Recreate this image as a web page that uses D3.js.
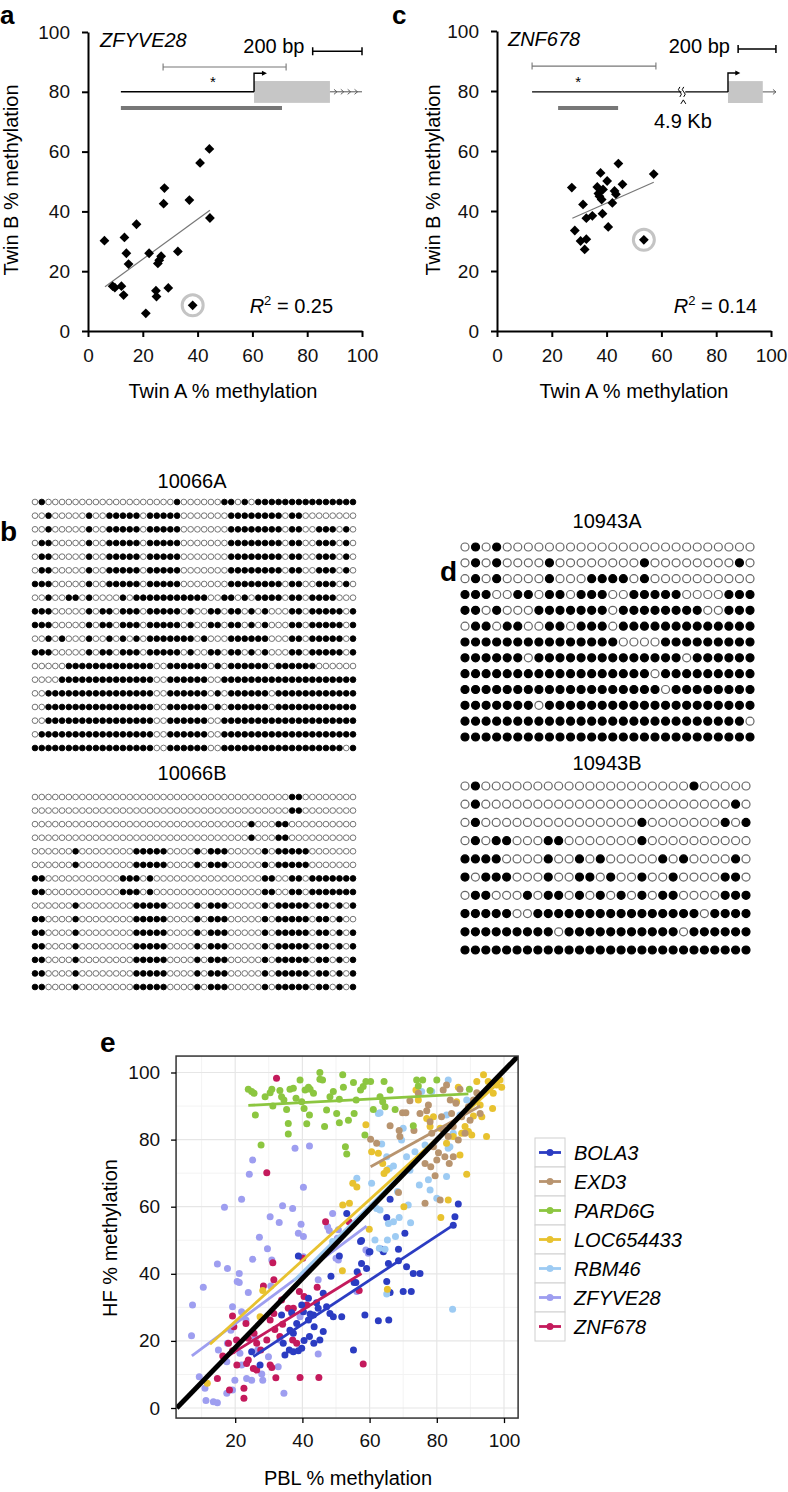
<!DOCTYPE html>
<html>
<head>
<meta charset="UTF-8">
<style>
  body { margin: 0; background: #fff; }
  svg { display: block; font-family: "Liberation Sans", Arial, Helvetica, sans-serif; }
</style>
</head>
<body>
<svg></svg>
<script src="https://d3js.org/d3.v7.min.js"></script>
<script>

let width = 788, height = 1492;

let svg = d3.select("svg")
    .attr("width", width)
    .attr("height", height);

// ---------- panels a and c: twin A vs twin B methylation ----------
const scatterTicks = [0, 20, 40, 60, 80, 100];

const zfyveTwinA = [6, 9, 9.8, 12.2, 13, 13.3, 14, 14.8, 17.7, 21.1, 22.3, 24.8, 25, 25.5, 26, 26.7, 27.9, 27.6, 29.3, 32.8, 37, 38.2, 40.9, 44.3, 44.5];
const zfyveTwinB = [30.2, 15, 14.5, 15, 12, 31.3, 26, 22.4, 35.7, 5.9, 26, 13.5, 11.5, 22.6, 23.7, 25, 47.8, 42.6, 14.4, 26.6, 43.8, 8.6, 56.2, 60.9, 37.8];
const zfyveOutlier = 21;
const zfyveFit = [[6.2, 14.8], [44.5, 40.4]];

const znfTwinA = [27.3, 28.4, 31.4, 30.5, 32.6, 32, 32.6, 34.8, 37.8, 36.6, 37, 37.4, 38.2, 38.7, 38.5, 40.2, 40.6, 42.1, 42.9, 43.4, 44.3, 45.8, 53.6, 57.2];
const znfTwinB = [47.8, 33.5, 42.2, 30, 30.6, 27.2, 37.6, 38.4, 52.7, 48, 45.8, 44.9, 43.8, 47.2, 39.1, 50, 34.7, 42.7, 46.7, 45.6, 55.8, 48.9, 30.4, 52.3];
const znfOutlier = 22;
const znfFit = [[27.5, 37.6], [57.2, 49.6]];

// ---------- panels b and d: bisulfite clones ----------
// each row: run lengths, alternating unmethylated / methylated, starting unmethylated
const clones10066A = [
    [1, 1, 19, 1, 6, 2, 1, 1, 1, 15],
    [2, 1, 5, 1, 2, 5, 1, 5, 7, 8, 1, 2, 8],
    [2, 1, 5, 1, 2, 5, 1, 5, 7, 8, 1, 2, 2, 3, 1, 1, 1],
    [1, 2, 5, 1, 2, 5, 1, 5, 7, 8, 1, 2, 2, 3, 1, 1, 1],
    [1, 2, 5, 1, 2, 5, 1, 5, 7, 8, 1, 2, 2, 3, 1, 1, 1],
    [1, 2, 5, 1, 2, 5, 1, 5, 7, 8, 1, 2, 2, 3, 1, 1, 1],
    [0, 3, 5, 1, 2, 5, 1, 5, 7, 8, 1, 2, 2, 3, 1, 1, 1],
    [2, 1, 2, 2, 1, 1, 4, 1, 1, 11, 2, 2, 1, 1, 1, 4, 1, 2, 1, 4, 3],
    [0, 3, 5, 1, 1, 2, 1, 3, 1, 5, 1, 1, 2, 2, 1, 2, 1, 1, 1, 1, 3, 2, 1, 5, 1, 1],
    [0, 3, 5, 1, 1, 2, 1, 3, 1, 5, 1, 1, 2, 2, 1, 2, 1, 1, 1, 1, 3, 2, 1, 5, 1, 1],
    [2, 1, 1, 1, 3, 1, 2, 1, 1, 1, 1, 1, 1, 7, 1, 1, 3, 6, 3, 2, 1, 5, 1, 1],
    [0, 3, 5, 1, 1, 2, 1, 3, 1, 5, 1, 1, 2, 2, 1, 2, 1, 1, 1, 1, 3, 2, 1, 5, 1, 1],
    [5, 13, 2, 6, 1, 1, 1, 6, 1, 6, 6],
    [4, 14, 2, 6, 2, 20],
    [2, 16, 2, 6, 1, 1, 1, 6, 1, 12],
    [2, 16, 2, 6, 1, 1, 1, 6, 1, 12],
    [2, 16, 2, 6, 2, 20],
    [1, 17, 2, 6, 2, 20],
    [0, 18, 2, 6, 2, 18, 1, 1]
];
const clones10066B = [
    [38, 2, 8],
    [38, 2, 8],
    [32, 1, 3, 2, 10],
    [32, 1, 3, 2, 10],
    [6, 1, 8, 5, 4, 1, 1, 3, 5, 1, 1, 5, 7],
    [6, 1, 8, 5, 4, 1, 1, 3, 5, 1, 1, 5, 7],
    [0, 2, 11, 3, 1, 1, 16, 2, 2, 2, 1, 7],
    [0, 2, 11, 3, 1, 1, 16, 2, 2, 2, 1, 7],
    [6, 1, 8, 5, 4, 1, 1, 3, 5, 1, 1, 5, 1, 2, 1, 1, 1, 1],
    [0, 2, 4, 1, 8, 5, 4, 1, 1, 3, 5, 1, 1, 5, 1, 2, 1, 1, 2],
    [0, 2, 4, 1, 8, 5, 4, 1, 1, 3, 5, 1, 1, 5, 1, 2, 1, 1, 1, 1],
    [0, 2, 4, 1, 8, 5, 4, 1, 1, 3, 5, 1, 1, 5, 1, 2, 1, 1, 1, 1],
    [0, 2, 4, 1, 8, 5, 4, 1, 1, 3, 5, 1, 1, 5, 1, 2, 1, 1, 1, 1],
    [0, 2, 4, 1, 8, 5, 4, 1, 1, 3, 5, 1, 1, 5, 1, 2, 1, 1, 1, 1],
    [0, 2, 4, 1, 8, 5, 4, 1, 1, 3, 5, 1, 1, 5, 1, 2, 1, 1, 1, 1]
];
const clones10943A = [
    [1, 1, 1, 1, 24],
    [1, 1, 1, 1, 4, 1, 8, 1, 8, 1, 1],
    [1, 1, 1, 1, 4, 1, 3, 4, 1, 1, 10],
    [0, 3, 2, 2, 1, 2, 1, 3, 2, 5, 4, 3],
    [0, 2, 1, 1, 3, 7, 1, 8, 2, 3],
    [1, 2, 1, 2, 2, 2, 1, 3, 1, 13],
    [0, 15, 4, 9],
    [0, 6, 1, 14, 1, 6],
    [0, 18, 1, 9],
    [0, 19, 1, 8],
    [0, 7, 1, 20],
    [0, 27, 1],
    [0, 28]
];
const clones10943B = [
    [1, 1, 20, 1, 5],
    [1, 1, 24, 1, 1],
    [1, 1, 15, 1, 7, 1, 1, 1],
    [1, 1, 1, 2, 3, 2, 7, 1, 10],
    [0, 4, 4, 1, 2, 1, 1, 1, 5, 1, 1, 1, 4, 1, 1],
    [0, 1, 1, 3, 3, 1, 2, 2, 1, 1, 2, 1, 2, 1, 4, 2, 1],
    [1, 2, 3, 1, 1, 2, 1, 1, 1, 1, 1, 1, 1, 1, 1, 2, 4, 3],
    [0, 5, 2, 16, 1, 4],
    [0, 9, 1, 11, 1, 6],
    [0, 28]
];

// ---------- panel e: PBL vs HF methylation ----------
const genes = ["BOLA3", "EXD3", "PARD6G", "LOC654433", "RBM46", "ZFYVE28", "ZNF678"];
const geneColors = ["#2b3cc2", "#b8946f", "#8cc640", "#e8c22f", "#9dcbf3", "#9e9ef0", "#c41a5c"];
const eTicksX = [20, 40, 60, 80, 100];
const eTicksY = [0, 20, 40, 60, 80, 100];
const eMinor = [10, 30, 50, 70, 90];

const bola3Pts = [[53.2, 58], [66.1, 62.2], [65.1, 56.8], [86.4, 60.8], [85.4, 57], [84.9, 54.5], [57.6, 49.9], [59.9, 46.6], [63.6, 47.3], [64.1, 46.6], [68.6, 47.3], [70.5, 52.1], [71, 42.1], [38.8, 45.3], [48.5, 39.3], [57.6, 43.1], [59.1, 41.6], [55.9, 37.4], [65.1, 37.7], [65.6, 43.1], [68.6, 43.9], [73, 40.1], [75, 40.1], [70, 34.7], [72.4, 34.7], [66.1, 34.4], [51, 45.3], [55.4, 37.4], [58.6, 27.7], [62.6, 26], [65.7, 26.2], [55.2, 17.3], [27.4, 12.8], [46.2, 34.2], [44.2, 31.4], [43.3, 27.7], [41.8, 26.2], [40.3, 28.7], [38.3, 25.2], [37.3, 22.3], [40.5, 20.1], [42.1, 21.3], [43.4, 19.3], [45.2, 20.3], [34.3, 19.3], [34.8, 15.8], [36.1, 17.3], [37.3, 16.8], [38.8, 17.1], [39.8, 17.8], [48.2, 28.2], [49.2, 27.2], [51.7, 27.2], [47.2, 30.2], [44.7, 29.7], [42.3, 28], [43.5, 24.2], [24.9, 16.8], [33.8, 27.7], [41.8, 32.7], [39.8, 30.7], [36.8, 28.4], [36.3, 23.2], [46.2, 22.8], [56.3, 40.6], [60.1, 46.6], [57.3, 49.6]];
const exd3Pts = [[60.3, 80.1], [62.1, 78.9], [66.1, 84.1], [68.8, 82.7], [69.8, 88], [70.8, 88], [72, 91.6], [73.2, 82.7], [74.5, 93.8], [75, 87.8], [76.5, 61], [76.5, 72.9], [77, 88.6], [77.5, 90.3], [78, 85.3], [78.5, 81.9], [79, 77.9], [79.5, 69.2], [80, 73.9], [80.5, 76.1], [81, 62], [81.4, 86.8], [81.9, 82.9], [82.4, 74.9], [82.9, 96.3], [83.4, 80.9], [83.7, 72.9], [84, 91.8], [84.4, 87.8], [84.9, 83.9], [85.7, 90.8], [86.4, 79.9], [86.9, 95], [87.4, 86.8], [88.4, 81.9], [89.4, 89.8], [89.9, 85.8], [90.9, 91.8], [91.9, 94], [92.9, 87.8], [78.2, 71.9], [84.9, 74.9], [69, 80.9], [81.9, 94.8], [68.6, 64.2]];
const pard6gPts = [[23.9, 95], [24.9, 94.3], [25.6, 93.8], [26, 87.3], [27.7, 78.4], [28.9, 92.8], [30.4, 94], [30.9, 95], [31.2, 90], [33.3, 94.6], [33.8, 92.8], [34.5, 91.8], [35.8, 84.8], [35.8, 81.7], [36.3, 95], [38.1, 92.3], [39.3, 97.8], [39.8, 91.3], [40.5, 89.3], [41.3, 84.7], [42.1, 87.3], [40.8, 94.8], [42.3, 95], [43.3, 93.8], [45.2, 100], [46, 97.8], [46.6, 83.9], [47.2, 88.8], [48.2, 92.8], [49.2, 94.3], [50.2, 87.8], [51, 85], [51, 92], [52, 99.3], [52.2, 95.6], [52.8, 77.9], [53.2, 75.7], [53.7, 85.8], [55.2, 97], [55.4, 87.8], [56, 91.8], [57.3, 94.8], [58.1, 95.8], [58.9, 97.3], [60.3, 97.3], [61.1, 89], [63.1, 92.8], [64.3, 97.3], [64.6, 89.8], [66.1, 94.8], [67.6, 89], [74, 97.8], [75.8, 97.8], [78, 94.6], [80, 97.8], [73, 84.1], [58.6, 81.4], [37.3, 95.3], [41.8, 95.6], [63.9, 91.3], [74.5, 96], [89.7, 95], [45.2, 98], [35.3, 89]];
const loc654433Pts = [[58.9, 84.4], [60.6, 76.4], [62.6, 75.9], [63.9, 72.9], [64.3, 69.9], [65.1, 70.9], [55, 67], [56.2, 65.9], [52, 60.5], [54, 61], [59.9, 53.3], [51.9, 40.9], [73.8, 94.8], [74.5, 91.8], [77, 86.3], [78, 83.9], [79, 86.8], [81, 83.4], [82.9, 78.9], [84.9, 80.9], [86.9, 75.4], [87.4, 81.9], [88.4, 83.9], [88.9, 69.7], [89.4, 82.4], [90.4, 81.4], [90.9, 87], [91.9, 97.3], [92.9, 90.3], [93.4, 86.8], [93.9, 99.3], [94.8, 80.9], [95.3, 97.3], [96.6, 89.3], [96.8, 93.8], [97.8, 96.3], [98.8, 97.8], [99.3, 95.6], [86.4, 95.6], [85.9, 91.3], [70.2, 60], [81.2, 56.8], [83.4, 62], [65.3, 35.4], [28.2, 35], [11.7, 7.4], [27.4, 27.2]];
const rbm46Pts = [[63.1, 88], [63.6, 78.7], [65.1, 74.9], [65.9, 71.4], [67.1, 72.1], [69.5, 79.9], [70, 83.4], [71, 74.9], [72, 70.9], [73.5, 76.4], [74.8, 66.5], [75.5, 94.3], [77.5, 68], [78, 65], [80, 62.5], [82.9, 69], [83.4, 77.4], [83.4, 97.8], [86.9, 87.3], [82.9, 87.3], [78.5, 94.3], [76.5, 78.4], [68.3, 64.5], [56.2, 68.5], [60.6, 67], [62.1, 59.5], [63.1, 59], [65.6, 55], [67.1, 55.5], [68.8, 56.8], [72.2, 55.2], [61.6, 50.1], [65.3, 50.1], [67.7, 51.1], [62.9, 47.6], [64.6, 47.3], [65.1, 34], [83.9, 77.9], [84.9, 81.9], [88.9, 91.8], [62.6, 87.8], [71.5, 60.5], [84.7, 29.4], [49, 49.6]];
const zfyve28Pts = [[37.8, 77.4], [42.1, 78.1], [25.2, 73.9], [24.2, 69.7], [40.3, 65.8], [21.9, 62.2], [16.8, 59.8], [34.1, 60.3], [37.1, 59.5], [30.4, 57], [33.1, 55.3], [39.6, 54.8], [38.8, 52.1], [40.3, 51.1], [27.2, 50.9], [49, 58], [47.5, 54], [48, 52.9], [29.6, 47.5], [50.4, 50.6], [50.7, 53.1], [58.9, 47.1], [59.6, 46.1], [25.2, 44.3], [14.7, 42.9], [17.7, 41.6], [21.2, 40.1], [20.6, 37.7], [21.2, 37.4], [10.5, 36], [23.9, 34.4], [50, 44.6], [50.7, 44.1], [44.7, 38.2], [56.2, 34.7], [7.3, 30.7], [7, 21.5], [17.7, 19.3], [15, 17.3], [19.2, 30.2], [9.3, 9.3], [11, 5.9], [11.3, 2.2], [13.5, 1.9], [14.7, 1.6], [17.5, 4.4], [19.2, 5.4], [19.9, 8.3], [21.9, 12.8], [23.4, 8.8], [28.2, 8.3], [27.9, 10.1], [29.9, 15.3], [32.8, 12.3], [34.5, 4.4], [44.7, 16.1], [40.3, 45.1], [30.9, 44.1], [33.3, 20.3], [26.7, 17.3], [18.7, 23.2], [23.2, 26.2], [39.3, 27.2], [21.9, 28.7], [30.6, 36.4], [17.5, 13.8], [24.9, 8.3], [21.4, 16.3], [26, 20.8]];
const znf678Pts = [[32.3, 98.3], [29.4, 70.1], [46.9, 55.5], [53.9, 55.5], [31.2, 43.3], [31.5, 38.2], [28.4, 36.4], [44.4, 36], [56.9, 35], [39.1, 34.7], [40.1, 44.6], [19.2, 27.4], [23.2, 25.2], [20.4, 20.3], [18, 19.3], [16.3, 15.5], [20.5, 12.8], [23.9, 20.8], [25.6, 22.3], [26.4, 19.3], [27.6, 17.3], [29.4, 20.3], [30.4, 26.2], [31.5, 28.2], [31.8, 23.4], [33.3, 21.3], [34.1, 25], [35.8, 29.7], [37.1, 20.3], [38.3, 19.3], [40.5, 33.2], [41.3, 30.7], [14.7, 8.8], [18.3, 5.4], [22.6, 5.9], [22.6, 2.9], [32.1, 9], [39.3, 9.1], [44.9, 9.1], [58.1, 13.1], [30.4, 12.8], [30.9, 12.1], [23.9, 14.3], [25.4, 11.8], [23.4, 13.3], [26.4, 11.3], [19.2, 17.1], [19.6, 24.2], [33.8, 32.2], [37.3, 29.7]];
const genePoints = [bola3Pts, exd3Pts, pard6gPts, loc654433Pts, rbm46Pts, zfyve28Pts, znf678Pts];

// fitted lines, start and end [x, y]
const geneFits = [
    [[25.4, 15.3], [84.9, 54.5]],
    [[60.3, 71.9], [92.9, 90.0]],
    [[23.9, 90.2], [89.4, 93.6]],
    [[12.5, 19.0], [99.0, 97.5]],
    [[37.5, 38.0], [88.0, 88.0]],
    [[7.1, 15.5], [59.1, 54.2]],
    [[17.5, 15.3], [57.6, 40.1]]
];
const identityLine = [[2.6, 0], [104.2, 104.9]];

// ================= drawing =================

function panelLetter(txt, x, y, size) {
    svg.append("text")
        .attr("x", x).attr("y", y)
        .style("font-size", (size || 28) + "px")
        .style("font-weight", "bold")
        .text(txt);
}

function styleAxis(g, sw) {
    g.selectAll("path.domain").attr("stroke", "#000").attr("stroke-width", sw);
    g.selectAll(".tick line").attr("stroke", "#000").attr("stroke-width", sw);
    g.selectAll(".tick text").style("font-size", "19px").attr("fill", "#111")
        .style("font-family", "'Liberation Sans', Arial, sans-serif");
}

function scatterPanel(x, y, xs, ys, outlier, fit, r2, titleX, titleYx) {
    let g = svg.append("g");

    let ax = g.append("g")
        .attr("transform", "translate(0," + y(0) + ")")
        .call(d3.axisBottom(x).tickValues(scatterTicks).tickSize(6).tickPadding(12).tickSizeOuter(0));
    styleAxis(ax, 2);
    let ay = g.append("g")
        .attr("transform", "translate(" + x(0) + ",0)")
        .call(d3.axisLeft(y).tickValues(scatterTicks).tickSize(6).tickPadding(12).tickSizeOuter(0));
    styleAxis(ay, 2);

    g.append("text")
        .attr("x", titleX).attr("y", 398)
        .attr("text-anchor", "middle")
        .style("font-size", "20px")
        .text("Twin A % methylation");
    g.append("text")
        .attr("transform", "translate(" + titleYx + ",180) rotate(-90)")
        .attr("text-anchor", "middle")
        .style("font-size", "20px")
        .text("Twin B % methylation");

    // regression line
    g.append("line")
        .attr("x1", x(fit[0][0])).attr("y1", y(fit[0][1]))
        .attr("x2", x(fit[1][0])).attr("y2", y(fit[1][1]))
        .attr("stroke", "#777").attr("stroke-width", 1.2);

    // gray ring round the outlier
    g.append("circle")
        .attr("cx", x(xs[outlier])).attr("cy", y(ys[outlier]))
        .attr("r", 10.5)
        .attr("fill", "none")
        .attr("stroke", "#c4c4c4")
        .attr("stroke-width", 3);

    let diamond = d3.symbol().type(d3.symbolSquare).size(48);
    g.append("g").selectAll("path")
        .data(xs.map((v, i) => [v, ys[i]]))
        .join("path")
        .attr("d", diamond)
        .attr("transform", d => "translate(" + x(d[0]) + "," + y(d[1]) + ") rotate(45)")
        .attr("fill", "#000");

    let t = g.append("text")
        .attr("x", x(r2.x)).attr("y", 313)
        .style("font-size", "20px");
    t.append("tspan").style("font-style", "italic").text("R");
    t.append("tspan").attr("dy", -8).style("font-size", "13px").text("2");
    t.append("tspan").attr("dy", 8).text(" = " + r2.text);
    return g;
}

// small arrowhead helper
function arrowHead(g, px, py) {
    g.append("path")
        .attr("d", "M" + (px - 5) + "," + (py - 2.5) + " L" + px + "," + py + " L" + (px - 5) + "," + (py + 2.5) + "Z")
        .attr("fill", "#000");
}

// ---- panel a ----
let xA = d3.scaleLinear().domain([0, 100]).range([88, 362]);
let yA = d3.scaleLinear().domain([0, 100]).range([331, 32]);
let gA = scatterPanel(xA, yA, zfyveTwinA, zfyveTwinB, zfyveOutlier, zfyveFit, { x: 59, text: "0.25" }, 223, 18);

// gene model, ZFYVE28
gA.append("text").attr("x", xA(4.4)).attr("y", yA(95)).style("font-size", "20px").style("font-style", "italic").text("ZFYVE28");
gA.append("text").attr("x", xA(79)).attr("y", yA(93)).attr("text-anchor", "end").style("font-size", "20px").text("200 bp");
gA.append("path")
    .attr("d", "M" + xA(82) + "," + (yA(93.6) - 4) + "v8M" + xA(82) + "," + yA(93.6) + "H" + xA(100) + "M" + xA(100) + "," + (yA(93.6) - 4) + "v8")
    .attr("stroke", "#000").attr("stroke-width", 1.5).attr("fill", "none");
gA.append("path")
    .attr("d", "M" + xA(27.4) + "," + (yA(88.3) - 3.5) + "v7M" + xA(27.4) + "," + yA(88.3) + "H" + xA(72.3) + "M" + xA(72.3) + "," + (yA(88.3) - 3.5) + "v7")
    .attr("stroke", "#777").attr("stroke-width", 1.1).attr("fill", "none");
gA.append("text").attr("x", xA(45.6)).attr("y", yA(81.5)).attr("text-anchor", "middle").attr("fill", "#000").style("font-size", "15px").text("*");
gA.append("rect")
    .attr("x", xA(60.6)).attr("y", yA(83.6))
    .attr("width", xA(88.3) - xA(60.6)).attr("height", yA(76.3) - yA(83.6))
    .attr("fill", "#c6c6c6");
gA.append("line").attr("x1", xA(12)).attr("x2", xA(60.6)).attr("y1", yA(80)).attr("y2", yA(80))
    .attr("stroke", "#000").attr("stroke-width", 1.4);
gA.append("path")
    .attr("d", "M" + xA(60.6) + "," + yA(80) + "V" + yA(86.2) + "H" + (xA(65.3) - 3))
    .attr("stroke", "#000").attr("stroke-width", 1.4).attr("fill", "none");
arrowHead(gA, xA(65.3), yA(86.2));
gA.append("line").attr("x1", xA(88.3)).attr("x2", xA(100)).attr("y1", yA(80)).attr("y2", yA(80))
    .attr("stroke", "#555").attr("stroke-width", 1);
[90.5, 93, 95.5, 98].forEach(v => {
    gA.append("path")
        .attr("d", "M" + (xA(v) - 2) + "," + (yA(80) - 2.5) + "L" + (xA(v) + 1) + "," + yA(80) + "L" + (xA(v) - 2) + "," + (yA(80) + 2.5))
        .attr("stroke", "#555").attr("stroke-width", 0.9).attr("fill", "none");
});
gA.append("line").attr("x1", xA(12)).attr("x2", xA(70.8)).attr("y1", yA(74.6)).attr("y2", yA(74.6))
    .attr("stroke", "#777").attr("stroke-width", 4);

// ---- panel c ----
let xC = d3.scaleLinear().domain([0, 100]).range([497, 771]);
let yC = d3.scaleLinear().domain([0, 100]).range([331, 31]);
let gC = scatterPanel(xC, yC, znfTwinA, znfTwinB, znfOutlier, znfFit, { x: 64.5, text: "0.14" }, 634, 440);

gC.append("text").attr("x", xC(4)).attr("y", yC(95)).style("font-size", "20px").style("font-style", "italic").text("ZNF678");
gC.append("text").attr("x", xC(85)).attr("y", yC(92.6)).attr("text-anchor", "end").style("font-size", "20px").text("200 bp");
gC.append("path")
    .attr("d", "M" + xC(88) + "," + (yC(94) - 4) + "v8M" + xC(88) + "," + yC(94) + "H" + xC(101.8) + "M" + xC(101.8) + "," + (yC(94) - 4) + "v8")
    .attr("stroke", "#000").attr("stroke-width", 1.5).attr("fill", "none");
gC.append("path")
    .attr("d", "M" + xC(12.8) + "," + (yC(88.3) - 3.5) + "v7M" + xC(12.8) + "," + yC(88.3) + "H" + xC(58) + "M" + xC(58) + "," + (yC(88.3) - 3.5) + "v7")
    .attr("stroke", "#777").attr("stroke-width", 1.1).attr("fill", "none");
gC.append("text").attr("x", xC(29.6)).attr("y", yC(81.5)).attr("text-anchor", "middle").attr("fill", "#000").style("font-size", "15px").text("*");
gC.append("rect")
    .attr("x", xC(84.3)).attr("y", yC(83.3))
    .attr("width", xC(97) - xC(84.3)).attr("height", yC(76) - yC(83.3))
    .attr("fill", "#c6c6c6");
gC.append("line").attr("x1", xC(12.8)).attr("x2", xC(84.3)).attr("y1", yC(79.7)).attr("y2", yC(79.7))
    .attr("stroke", "#000").attr("stroke-width", 1.4);
// break mark on the long intron
gC.append("rect").attr("x", xC(67.3)).attr("y", yC(79.7) - 4).attr("width", xC(68.7) - xC(67.3)).attr("height", 8).attr("fill", "#fff");
[67.3, 68.7].forEach(v => {
    gC.append("path")
        .attr("d", "M" + (xC(v) - 1.5) + "," + (yC(79.7) + 5) + "q3,-3 0,-5 q-3,-2 0,-5")
        .attr("stroke", "#000").attr("stroke-width", 1).attr("fill", "none");
});
gC.append("path")
    .attr("d", "M" + (xC(68) - 2.5) + "," + (yC(79.7) + 12) + "L" + xC(68) + "," + (yC(79.7) + 8) + "L" + (xC(68) + 2.5) + "," + (yC(79.7) + 12))
    .attr("stroke", "#000").attr("stroke-width", 1).attr("fill", "none");
gC.append("text").attr("x", xC(57.3)).attr("y", yC(67.7)).style("font-size", "20px").text("4.9 Kb");
gC.append("path")
    .attr("d", "M" + xC(84.3) + "," + yC(79.7) + "V" + yC(86) + "H" + (xC(88.8) - 3))
    .attr("stroke", "#000").attr("stroke-width", 1.4).attr("fill", "none");
arrowHead(gC, xC(88.8), yC(86));
gC.append("line").attr("x1", xC(97)).attr("x2", xC(101.8)).attr("y1", yC(79.7)).attr("y2", yC(79.7))
    .attr("stroke", "#555").attr("stroke-width", 1);
gC.append("path")
    .attr("d", "M" + (xC(101.8) - 3) + "," + (yC(79.7) - 2.5) + "L" + xC(101.8) + "," + yC(79.7) + "L" + (xC(101.8) - 3) + "," + (yC(79.7) + 2.5))
    .attr("stroke", "#555").attr("stroke-width", 0.9).attr("fill", "none");
gC.append("line").attr("x1", xC(22.3)).attr("x2", xC(44.2)).attr("y1", yC(74.3)).attr("y2", yC(74.3))
    .attr("stroke", "#777").attr("stroke-width", 4);

panelLetter("a", 0, 24, 26);
panelLetter("c", 392, 24, 26);

// ---- panels b and d: clone lollipop grids ----
function cloneGrid(runs, x0, x1, y0, y1, r, sw) {
    let nCols = d3.sum(runs[0]);
    let cx = d3.scalePoint().domain(d3.range(nCols)).range([x0, x1]);
    let cy = d3.scalePoint().domain(d3.range(runs.length)).range([y0, y1]);
    let cells = [];
    runs.forEach((row, i) => {
        let c = 0;
        row.forEach((len, k) => {
            for (let j = 0; j < len; j++) cells.push({ row: i, col: c++, meth: k % 2 === 1 });
        });
    });
    svg.append("g").selectAll("circle")
        .data(cells)
        .join("circle")
        .attr("cx", d => cx(d.col))
        .attr("cy", d => cy(d.row))
        .attr("r", r)
        .attr("fill", d => d.meth ? "#000" : "#fff")
        .attr("stroke", d => d.meth ? "#000" : "#666")
        .attr("stroke-width", sw);
}

function gridLabel(txt, x, y) {
    svg.append("text").attr("x", x).attr("y", y).attr("text-anchor", "middle")
        .style("font-size", "20px").text(txt);
}

panelLetter("b", 0, 541);
gridLabel("10066A", 192, 488);
cloneGrid(clones10066A, 35, 353, 502, 748, 2.85, 0.9);
gridLabel("10066B", 192, 780);
cloneGrid(clones10066B, 35, 353, 797, 987, 2.85, 0.9);

panelLetter("d", 440, 581);
gridLabel("10943A", 607, 528);
cloneGrid(clones10943A, 465, 750, 547, 737, 4, 1.2);
gridLabel("10943B", 607, 770);
cloneGrid(clones10943B, 465, 746, 786, 950, 4, 1.2);

// ---- panel e ----
let xE = d3.scaleLinear().domain([0, 100]).range([168, 504]);
let yE = d3.scaleLinear().domain([0, 100]).range([1408, 1072.5]);
const eX0 = 2.4, eX1 = 104.2, eY0 = -3, eY1 = 104.9;

let gE = svg.append("g");
gE.append("clipPath").attr("id", "clipE")
    .append("rect")
    .attr("x", xE(eX0)).attr("y", yE(eY1))
    .attr("width", xE(eX1) - xE(eX0)).attr("height", yE(eY0) - yE(eY1));

gE.append("g").selectAll("line.vmin").data(eMinor).join("line")
    .attr("x1", d => xE(d)).attr("x2", d => xE(d)).attr("y1", yE(eY0)).attr("y2", yE(eY1))
    .attr("stroke", "#f3f3f3").attr("stroke-width", 1);
gE.append("g").selectAll("line.hmin").data(eMinor).join("line")
    .attr("y1", d => yE(d)).attr("y2", d => yE(d)).attr("x1", xE(eX0)).attr("x2", xE(eX1))
    .attr("stroke", "#f3f3f3").attr("stroke-width", 1);
gE.append("g").selectAll("line.vmaj").data(eTicksX).join("line")
    .attr("x1", d => xE(d)).attr("x2", d => xE(d)).attr("y1", yE(eY0)).attr("y2", yE(eY1))
    .attr("stroke", "#e6e6e6").attr("stroke-width", 1.2);
gE.append("g").selectAll("line.hmaj").data(eTicksY).join("line")
    .attr("y1", d => yE(d)).attr("y2", d => yE(d)).attr("x1", xE(eX0)).attr("x2", xE(eX1))
    .attr("stroke", "#e6e6e6").attr("stroke-width", 1.2);

let plotE = gE.append("g").attr("clip-path", "url(#clipE)");
let drawOrder = [5, 6, 0, 4, 3, 1, 2];
drawOrder.forEach(i => {
    plotE.append("g").selectAll("circle")
        .data(genePoints[i])
        .join("circle")
        .attr("cx", d => xE(d[0]))
        .attr("cy", d => yE(d[1]))
        .attr("r", 3.5)
        .attr("fill", geneColors[i]);
});
drawOrder.forEach(i => {
    let f = geneFits[i];
    plotE.append("line")
        .attr("x1", xE(f[0][0])).attr("y1", yE(f[0][1]))
        .attr("x2", xE(f[1][0])).attr("y2", yE(f[1][1]))
        .attr("stroke", geneColors[i]).attr("stroke-width", 2.8);
});
plotE.append("line")
    .attr("x1", xE(identityLine[0][0])).attr("y1", yE(identityLine[0][1]))
    .attr("x2", xE(identityLine[1][0])).attr("y2", yE(identityLine[1][1]))
    .attr("stroke", "#000").attr("stroke-width", 5);

gE.append("rect")
    .attr("x", xE(eX0)).attr("y", yE(eY1))
    .attr("width", xE(eX1) - xE(eX0)).attr("height", yE(eY0) - yE(eY1))
    .attr("fill", "none").attr("stroke", "#333").attr("stroke-width", 1.5);

let axE = gE.append("g")
    .attr("transform", "translate(0," + yE(eY0) + ")")
    .call(d3.axisBottom(xE).tickValues(eTicksX).tickSize(5).tickPadding(10).tickSizeOuter(0));
axE.select("path.domain").remove();
styleAxis(axE, 1.3);
let ayE = gE.append("g")
    .attr("transform", "translate(" + xE(eX0) + ",0)")
    .call(d3.axisLeft(yE).tickValues(eTicksY).tickSize(5).tickPadding(11).tickSizeOuter(0));
ayE.select("path.domain").remove();
styleAxis(ayE, 1.3);

gE.append("text").attr("x", 348).attr("y", 1485).attr("text-anchor", "middle")
    .style("font-size", "20px").text("PBL % methylation");
gE.append("text").attr("transform", "translate(117,1238) rotate(-90)").attr("text-anchor", "middle")
    .style("font-size", "20px").text("HF % methylation");
panelLetter("e", 100, 1052);

// legend
let leg = gE.append("g").attr("transform", "translate(535,1138)");
let legRow = d3.scaleBand().domain(genes).range([0, 29 * genes.length]);
let items = leg.selectAll("g").data(genes).join("g")
    .attr("transform", d => "translate(0," + legRow(d) + ")");
items.append("rect").attr("width", 30).attr("height", legRow.bandwidth())
    .attr("fill", "#fff").attr("stroke", "#d0d0d0").attr("stroke-width", 1);
items.append("line").attr("x1", 4).attr("x2", 26)
    .attr("y1", legRow.bandwidth() / 2).attr("y2", legRow.bandwidth() / 2)
    .attr("stroke", (d, i) => geneColors[i]).attr("stroke-width", 2.8);
items.append("circle").attr("cx", 15).attr("cy", legRow.bandwidth() / 2).attr("r", 3.5)
    .attr("fill", (d, i) => geneColors[i]);
items.append("text").attr("x", 39).attr("y", legRow.bandwidth() / 2 + 7)
    .style("font-size", "20px").style("font-style", "italic").text(d => d);

</script>
</body>
</html>
